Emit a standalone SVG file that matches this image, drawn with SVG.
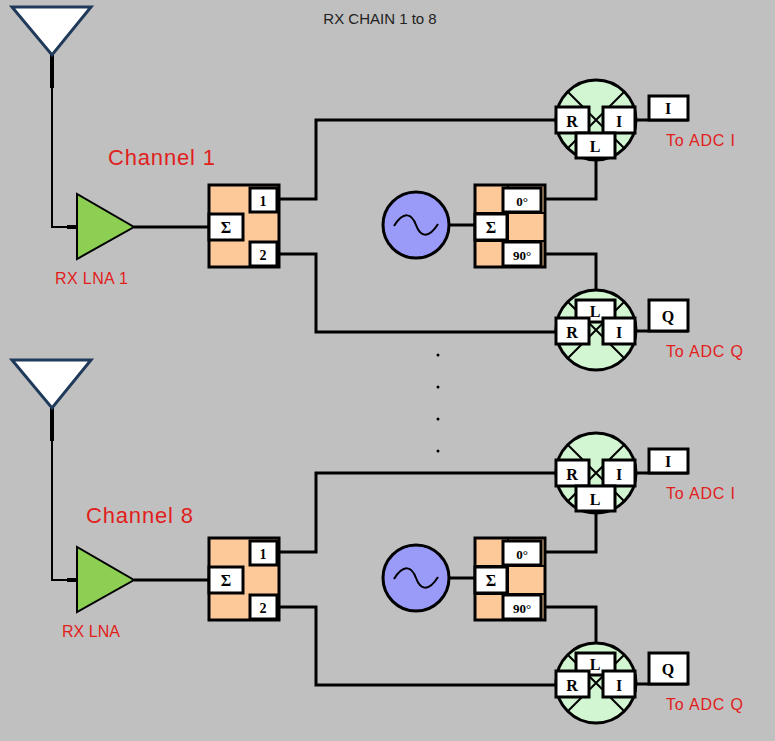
<svg xmlns="http://www.w3.org/2000/svg" width="775" height="741" viewBox="0 0 775 741">
<style>
.w{stroke:#000;stroke-width:3;fill:none}
.t{stroke:#000;stroke-width:2;fill:none}
.box{fill:#fff;stroke:#000;stroke-width:3}
.org{fill:#fdc999;stroke:#000;stroke-width:3}
.bt{font-family:"Liberation Serif",serif;font-weight:bold;text-anchor:middle;fill:#000}
.red{font-family:"Liberation Sans",sans-serif;fill:#e0201c}
</style>
<defs>
<g id="chain">
<g class="ant"><polygon points="12,7 91,7 52,55" fill="#fff" stroke="#1f3a5a" stroke-width="3"/></g>
<g id="lnaS"><polygon points="77,194 77,259 134,227" fill="#8ccf52" stroke="#000" stroke-width="2"/></g>
<g id="split">
<rect x="209" y="185" width="70" height="82" class="org"/>
<rect x="250" y="188" width="27" height="24" class="box"/><text x="263" y="206" class="bt" font-size="14">1</text>
<rect x="209" y="214" width="34" height="26" class="box"/><text x="226" y="233" class="bt" font-size="16">Σ</text>
<rect x="250" y="242" width="27" height="24" class="box"/><text x="263" y="260" class="bt" font-size="14">2</text>
</g>
<g id="osc"><circle cx="416" cy="225" r="33" fill="#9a9af8" stroke="#000" stroke-width="3"/>
<path d="M394,226 C404,210 412,214 416,225 C420,236 428,240 438,224" fill="none" stroke="#000" stroke-width="2"/></g>
<g id="quad">
<rect x="475" y="185" width="70" height="82" class="org"/>
<line x1="475" y1="213" x2="545" y2="213" stroke="#000" stroke-width="2"/>
<line x1="475" y1="241" x2="545" y2="241" stroke="#000" stroke-width="2"/>
<line x1="508" y1="185" x2="508" y2="267" stroke="#000" stroke-width="2"/>
<rect x="503" y="188" width="38" height="24" class="box"/><text x="522" y="206" class="bt" font-size="13">0°</text>
<rect x="475" y="214" width="32" height="26" class="box"/><text x="491" y="233" class="bt" font-size="16">Σ</text>
<rect x="503" y="242" width="38" height="24" class="box"/><text x="522" y="260" class="bt" font-size="13">90°</text>
</g>
<g id="mixI">
<circle cx="596" cy="120" r="40" fill="#d2f5d2" stroke="#000" stroke-width="3"/>
<path d="M568,92 L624,148 M624,92 L568,148" stroke="#000" stroke-width="2"/>
<rect x="556" y="107" width="33" height="26" class="box"/><text x="572" y="127" class="bt" font-size="16">R</text>
<rect x="603" y="107" width="32" height="26" class="box"/><text x="619" y="127" class="bt" font-size="16">I</text>
<rect x="576" y="133" width="39" height="25" class="box"/><text x="595" y="152" class="bt" font-size="16">L</text>
<rect x="649" y="96" width="39" height="24" class="box"/><text x="668" y="114" class="bt" font-size="16">I</text>
</g>
<g id="mixQ">
<circle cx="596" cy="330" r="40" fill="#d2f5d2" stroke="#000" stroke-width="3"/>
<path d="M568,302 L624,358 M624,302 L568,358" stroke="#000" stroke-width="2"/>
<rect x="576" y="300" width="39" height="22" class="box"/><text x="595" y="317" class="bt" font-size="16">L</text>
<rect x="556" y="318" width="33" height="26" class="box"/><text x="572" y="338" class="bt" font-size="16">R</text>
<rect x="603" y="318" width="32" height="26" class="box"/><text x="619" y="338" class="bt" font-size="16">I</text>
<rect x="649" y="300" width="39" height="31" class="box"/><text x="668" y="322" class="bt" font-size="16">Q</text>
</g>
</g>
<g id="wires">
<path d="M52,55 V88" stroke="#000" stroke-width="4"/>
<path d="M52,88 V227 H67" class="t"/>
<path d="M67,227 H77" stroke="#000" stroke-width="4"/>
<path d="M134,227 H209" class="w"/>
<path d="M279,199 H316 V120 H556" class="w"/>
<path d="M279,254 H316 V332 H556" class="w"/>
<path d="M449,225 H475" class="w"/>
<path d="M545,199 H596 V158" class="w"/>
<path d="M545,254 H596 V300" class="w"/>
<path d="M635,120 H688" class="w"/>
<path d="M635,331 H688" class="w"/>
</g>
</defs>
<rect width="775" height="741" fill="#c0c0c0"/>
<text x="380" y="24" font-family="Liberation Sans,sans-serif" font-size="15" text-anchor="middle" fill="#222">RX CHAIN 1 to 8</text>
<g id="connectors">
<use href="#wires"/>
<use href="#wires" y="353"/>
</g>
<g id="channel1">
<use href="#chain"/>
<text x="108" y="165" class="red" font-size="22" textLength="107">Channel 1</text>
<text x="55" y="284" class="red" font-size="16" textLength="73">RX LNA 1</text>
<text x="666" y="146" class="red" font-size="16" textLength="69">To ADC I</text>
<text x="666" y="357" class="red" font-size="16" textLength="77">To ADC Q</text>
</g>
<g id="channel8">
<use href="#chain" y="353"/>
<text x="86" y="523" class="red" font-size="22" textLength="107">Channel 8</text>
<text x="62" y="637" class="red" font-size="16" textLength="58">RX LNA</text>
<text x="666" y="499" class="red" font-size="16" textLength="69">To ADC I</text>
<text x="666" y="710" class="red" font-size="16" textLength="77">To ADC Q</text>
</g>
<g id="dots" fill="#000">
<circle cx="438" cy="355" r="1.5"/><circle cx="438" cy="387" r="1.5"/><circle cx="438" cy="419" r="1.5"/><circle cx="438" cy="451" r="1.5"/>
</g>
</svg>
